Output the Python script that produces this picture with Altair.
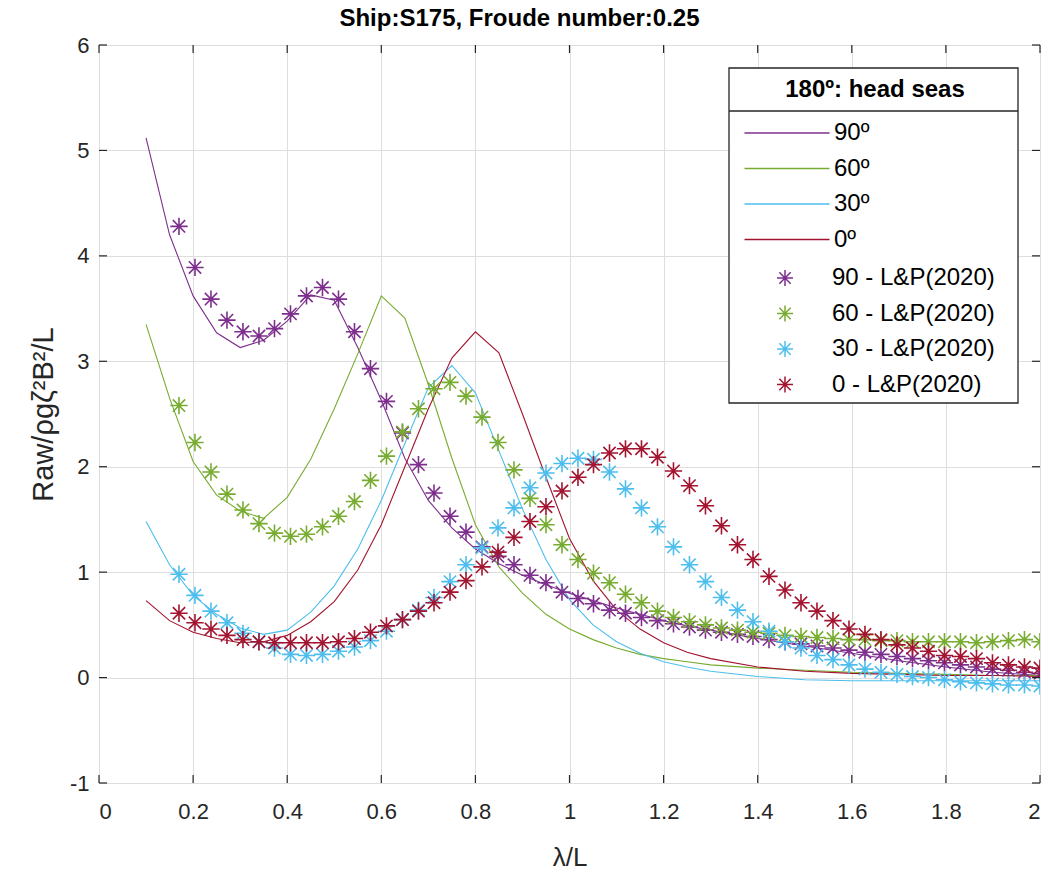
import altair as alt
import pandas as pd

# ---------------- data ----------------
line_names = ["90º", "60º", "30º", " 0º"]
lp_names = ["90 - L&P(2020)", "60 - L&P(2020)", "30 - L&P(2020)", "0 - L&P(2020)"]
colors = ["#7E2F8E", "#77AC30", "#4DBEEE", "#A2142F"]

line_x = [0.10, 0.15, 0.20, 0.25, 0.30, 0.35, 0.40, 0.45, 0.50, 0.55, 0.60, 0.65,
          0.70, 0.75, 0.80, 0.85, 0.90, 0.95, 1.00, 1.05, 1.10, 1.15, 1.20, 1.25,
          1.30, 1.40, 1.50, 1.60, 1.70, 1.80, 1.90, 2.00]
line_90 = [5.12, 4.20, 3.62, 3.27, 3.13, 3.20, 3.38, 3.63, 3.58, 3.13, 2.63, 2.08,
           1.68, 1.42, 1.22, 1.08, 0.97, 0.88, 0.80, 0.73, 0.66, 0.60, 0.54, 0.49,
           0.45, 0.37, 0.30, 0.23, 0.16, 0.10, 0.05, 0.02]
line_60 = [3.35, 2.65, 2.05, 1.73, 1.58, 1.51, 1.71, 2.07, 2.55, 3.07, 3.62, 3.41,
           2.78, 2.08, 1.45, 1.05, 0.80, 0.60, 0.46, 0.36, 0.28, 0.22, 0.18, 0.15,
           0.12, 0.09, 0.07, 0.05, 0.04, 0.03, 0.02, 0.02]
line_30 = [1.48, 1.07, 0.78, 0.60, 0.47, 0.41, 0.45, 0.62, 0.87, 1.22, 1.68, 2.22,
           2.75, 2.96, 2.70, 2.15, 1.60, 1.12, 0.74, 0.50, 0.34, 0.23, 0.15, 0.10,
           0.06, 0.01, -0.02, -0.03, -0.03, -0.03, -0.03, -0.03]
line_0 = [0.73, 0.54, 0.43, 0.37, 0.33, 0.34, 0.40, 0.53, 0.72, 1.02, 1.45, 2.00,
          2.55, 3.03, 3.28, 3.08, 2.50, 1.90, 1.32, 0.92, 0.64, 0.46, 0.33, 0.24,
          0.18, 0.10, 0.06, 0.04, 0.03, 0.02, 0.02, 0.01]

lp_x = [0.170, 0.204, 0.238, 0.272, 0.306, 0.340, 0.373, 0.407, 0.441, 0.475,
        0.509, 0.543, 0.577, 0.611, 0.645, 0.679, 0.712, 0.746, 0.780, 0.814,
        0.848, 0.882, 0.916, 0.950, 0.984, 1.018, 1.051, 1.085, 1.119, 1.153,
        1.187, 1.221, 1.255, 1.289, 1.323, 1.357, 1.390, 1.424, 1.458, 1.492,
        1.526, 1.560, 1.594, 1.628, 1.662, 1.696, 1.729, 1.763, 1.797, 1.831,
        1.865, 1.899, 1.933, 1.967, 2.000]
lp_90 = [4.28, 3.89, 3.59, 3.39, 3.28, 3.24, 3.31, 3.45, 3.62, 3.70,
         3.59, 3.28, 2.93, 2.62, 2.32, 2.02, 1.75, 1.53, 1.38, 1.24,
         1.15, 1.07, 0.97, 0.90, 0.81, 0.75, 0.70, 0.64, 0.61, 0.57,
         0.54, 0.51, 0.48, 0.45, 0.43, 0.41, 0.39, 0.36, 0.34, 0.32,
         0.30, 0.28, 0.26, 0.24, 0.22, 0.20, 0.18, 0.16, 0.14, 0.12,
         0.10, 0.08, 0.07, 0.05, 0.04]
lp_60 = [2.58, 2.23, 1.95, 1.74, 1.59, 1.46, 1.37, 1.34, 1.36, 1.43,
         1.53, 1.67, 1.87, 2.10, 2.33, 2.55, 2.74, 2.80, 2.67, 2.47,
         2.23, 1.97, 1.70, 1.45, 1.26, 1.12, 0.99, 0.90, 0.79, 0.71,
         0.63, 0.57, 0.53, 0.50, 0.47, 0.45, 0.43, 0.42, 0.40, 0.39,
         0.38, 0.37, 0.36, 0.36, 0.35, 0.35, 0.34, 0.34, 0.34, 0.34,
         0.33, 0.34, 0.35, 0.36, 0.34]
lp_30 = [0.98, 0.78, 0.63, 0.52, 0.42, 0.34, 0.28, 0.22, 0.21, 0.22,
         0.25, 0.29, 0.35, 0.44, 0.55, 0.64, 0.76, 0.91, 1.07, 1.23,
         1.42, 1.61, 1.80, 1.94, 2.03, 2.08, 2.07, 1.95, 1.79, 1.61,
         1.43, 1.24, 1.07, 0.91, 0.76, 0.64, 0.53, 0.44, 0.34, 0.28,
         0.21, 0.17, 0.12, 0.08, 0.05, 0.03, 0.01, 0.00, -0.02, -0.04,
         -0.05, -0.06, -0.07, -0.07, -0.08]
lp_0 = [0.61, 0.52, 0.46, 0.40, 0.36, 0.34, 0.33, 0.33, 0.33, 0.33,
        0.34, 0.37, 0.43, 0.49, 0.55, 0.63, 0.71, 0.81, 0.92, 1.05,
        1.19, 1.33, 1.48, 1.62, 1.77, 1.90, 2.02, 2.13, 2.17, 2.17,
        2.09, 1.96, 1.82, 1.63, 1.44, 1.26, 1.12, 0.96, 0.83, 0.71,
        0.63, 0.54, 0.46, 0.41, 0.36, 0.31, 0.28, 0.25, 0.21, 0.20,
        0.18, 0.14, 0.12, 0.10, 0.09]

x_ticks = [0, 0.2, 0.4, 0.6, 0.8, 1, 1.2, 1.4, 1.6, 1.8, 2]
y_ticks = [-1, 0, 1, 2, 3, 4, 5, 6]

# ---------------- tables ----------------
line_rows = []
for name, ys in zip(line_names, [line_90, line_60, line_30, line_0]):
    for x, y in zip(line_x, ys):
        line_rows.append({"series": name, "x": x, "y": y})
line_df = pd.DataFrame(line_rows)

lp_rows = []
for name, ys in zip(lp_names, [lp_90, lp_60, lp_30, lp_0]):
    for x, y in zip(lp_x, ys):
        lp_rows.append({"series": name, "x": x, "y": y})
lp_df = pd.DataFrame(lp_rows)

xt_df = pd.DataFrame({"t": x_ticks})
yt_df = pd.DataFrame({"t": y_ticks})
one = pd.DataFrame({"a": [0]})

W, H = 941, 738
FONT = "Liberation Sans"
AXC = "#262626"
STAR = "M-1,0H1M0,-1V1M-0.71,-0.71L0.71,0.71M-0.71,0.71L0.71,-0.71"

xscale = alt.Scale(domain=[0, 2], nice=False, zero=False)
yscale = alt.Scale(domain=[-1, 6], nice=False, zero=False)

xaxis = alt.Axis(values=x_ticks, labelExpr="datum.value + ''", title="λ/L", grid=True,
                 gridColor="#dedede", gridWidth=1, tickSize=0, domain=False,
                 labelFont=FONT, labelFontSize=22, labelColor=AXC, labelPadding=18,
                 titleFont=FONT, titleFontSize=26, titleFontWeight="normal",
                 titleColor=AXC, titlePadding=22)
yaxis = alt.Axis(values=y_ticks, labelExpr="datum.value + ''", title="Raw/ρgζ²B²/L", grid=True,
                 gridColor="#dedede", gridWidth=1, tickSize=0, domain=False,
                 labelFont=FONT, labelFontSize=22, labelColor=AXC, labelPadding=10,
                 titleFont=FONT, titleFontSize=29, titleFontWeight="normal",
                 titleColor=AXC, titleBaseline="middle", titleX=-56)

lines = alt.Chart(line_df).mark_line(strokeWidth=1.1, clip=True).encode(
    x=alt.X("x:Q", scale=xscale, axis=xaxis),
    y=alt.Y("y:Q", scale=yscale, axis=yaxis),
    color=alt.Color("series:N", scale=alt.Scale(domain=line_names, range=colors),
                    legend=alt.Legend(title=None, orient="none", legendX=676, legendY=76,
                                      symbolType="M-5,0H5", symbolSize=289,
                                      symbolStrokeWidth=1.5, labelFont=FONT,
                                      labelFontSize=24, labelColor="#000000",
                                      labelLimit=400, labelOffset=35,
                                      rowPadding=11.5, padding=0)),
    detail="series:N",
    order="x:Q",
)

points = alt.Chart(lp_df).mark_point(shape=STAR, size=300, filled=False,
                                     strokeWidth=1.6, opacity=1, clip=True).encode(
    x=alt.X("x:Q", scale=xscale),
    y=alt.Y("y:Q", scale=yscale),
    stroke=alt.Stroke("series:N", scale=alt.Scale(domain=lp_names, range=colors),
                      legend=alt.Legend(title=None, orient="none", legendX=674, legendY=221,
                                        symbolType=STAR, symbolSize=256,
                                        symbolStrokeWidth=1.5, symbolFillColor="transparent",
                                        labelFont=FONT, labelFontSize=24,
                                        labelColor="#000000", labelLimit=400,
                                        labelOffset=35, rowPadding=11.5, padding=0)),
)

# inward ticks on all four sides
xt_bottom = alt.Chart(xt_df).mark_rule(color=AXC, strokeWidth=1.2).encode(
    x=alt.X("t:Q", scale=xscale), y=alt.value(H), y2=alt.value(H - 8))
xt_top = alt.Chart(xt_df).mark_rule(color=AXC, strokeWidth=1.2).encode(
    x=alt.X("t:Q", scale=xscale), y=alt.value(0), y2=alt.value(8))
yt_left = alt.Chart(yt_df).mark_rule(color=AXC, strokeWidth=1.2).encode(
    y=alt.Y("t:Q", scale=yscale), x=alt.value(0), x2=alt.value(8))
yt_right = alt.Chart(yt_df).mark_rule(color=AXC, strokeWidth=1.2).encode(
    y=alt.Y("t:Q", scale=yscale), x=alt.value(W), x2=alt.value(W - 8))

# legend box
box = alt.Chart(one).mark_rect(fill="white", stroke=AXC, strokeWidth=1.3).encode(
    x=alt.value(630), x2=alt.value(919), y=alt.value(23), y2=alt.value(358))
sep = alt.Chart(one).mark_rule(color=AXC, strokeWidth=1.3).encode(
    x=alt.value(630), x2=alt.value(919), y=alt.value(66))
head = alt.Chart(one).mark_text(text="180º: head seas", font=FONT, fontSize=24,
                                fontWeight="bold", color="#000000",
                                align="center", baseline="middle").encode(
    x=alt.value(776), y=alt.value(45))

chart = alt.layer(lines, points, xt_bottom, xt_top, yt_left, yt_right, box, sep, head).resolve_scale(
    color="independent", stroke="independent"
).properties(
    width=W, height=H,
    autosize="none",
    padding={"left": 99, "top": 45, "right": 11, "bottom": 89},
    title=alt.TitleParams("Ship:S175, Froude number:0.25", font=FONT, fontSize=24,
                          fontWeight="bold", color="#000000", anchor="middle",
                          frame="group", offset=13, dx=-50, dy=10),
).configure_view(stroke=AXC, strokeWidth=1.3).configure(background="white")

chart.save("out.html", embed_options={"renderer": "svg", "actions": False})
